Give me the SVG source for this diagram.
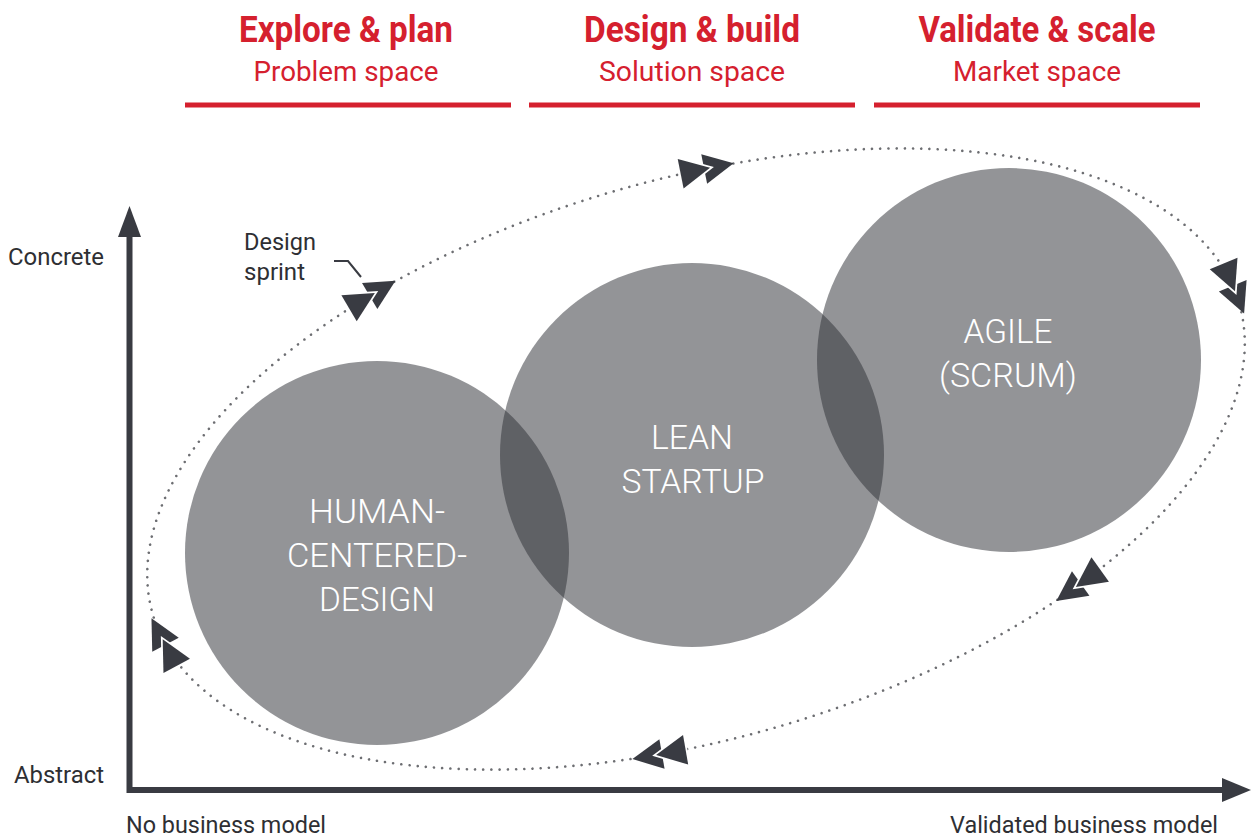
<svg xmlns="http://www.w3.org/2000/svg" xmlns:xlink="http://www.w3.org/1999/xlink" width="1252" height="837" viewBox="0 0 1252 837">
  <style>
    .head { font-family: Roboto, "Liberation Sans", sans-serif; font-weight: 700; font-size: 36px; fill: #d5202e; text-anchor: middle; }
    .sub { font-family: Roboto, "Liberation Sans", sans-serif; font-weight: 400; font-size: 28px; fill: #d5202e; text-anchor: middle; }
    .rule { stroke: #d5202e; stroke-width: 5; }
    .axislbl { font-family: Roboto, "Liberation Sans", sans-serif; font-size: 23px; fill: #2e2f33; }
    .circle { fill: #303238; fill-opacity: 0.52; }
    .clbl { font-family: Roboto, "Liberation Sans", sans-serif; font-weight: 300; font-size: 34px; fill: #ffffff; text-anchor: middle; }
    .axis { fill: none; stroke: #393b42; stroke-width: 6; }
    .ahead { fill: #393b42; }
    .loop { fill: none; stroke: #6d6e72; stroke-width: 2.6; stroke-dasharray: 0 8.2; stroke-linecap: round; }
    .chev { fill: #393b42; }
    .chev-back { fill: #393b42; stroke: #ffffff; stroke-width: 3.5; paint-order: stroke; }
  </style>
  <defs>
    <!-- double arrowhead pointing along +x, centred on the origin -->
    <g id="dbl">
      <polygon class="chev" points="-4,-15 26,0 -4,15"/>
      <polygon class="chev-back" points="-28,-15 2,0 -28,15"/>
    </g>
  </defs>

  <!-- phase headers -->
  <g id="phase-explore">
    <text class="head" x="346" y="42" textLength="214" lengthAdjust="spacingAndGlyphs">Explore &amp; plan</text>
    <text class="sub" x="346" y="81" textLength="185" lengthAdjust="spacingAndGlyphs">Problem space</text>
    <line class="rule" x1="185" y1="105" x2="511" y2="105"/>
  </g>
  <g id="phase-design">
    <text class="head" x="692" y="42" textLength="216" lengthAdjust="spacingAndGlyphs">Design &amp; build</text>
    <text class="sub" x="692" y="81" textLength="186" lengthAdjust="spacingAndGlyphs">Solution space</text>
    <line class="rule" x1="529" y1="105" x2="855" y2="105"/>
  </g>
  <g id="phase-validate">
    <text class="head" x="1037" y="42" textLength="237" lengthAdjust="spacingAndGlyphs">Validate &amp; scale</text>
    <text class="sub" x="1037" y="81" textLength="168" lengthAdjust="spacingAndGlyphs">Market space</text>
    <line class="rule" x1="874" y1="105" x2="1200" y2="105"/>
  </g>

  <!-- axes -->
  <g id="axes">
    <path class="axis" d="M129.5,232 V790 H1224"/>
    <polygon class="ahead" points="118,237 129.5,206 141,237"/>
    <polygon class="ahead" points="1222,778 1251,790 1222,802"/>
    <text class="axislbl" x="8" y="265" textLength="96" lengthAdjust="spacingAndGlyphs">Concrete</text>
    <text class="axislbl" x="14" y="783" textLength="90" lengthAdjust="spacingAndGlyphs">Abstract</text>
    <text class="axislbl" x="126" y="833" textLength="200" lengthAdjust="spacingAndGlyphs">No business model</text>
    <text class="axislbl" x="950" y="833" textLength="268" lengthAdjust="spacingAndGlyphs">Validated business model</text>
  </g>

  <!-- dotted iteration loop -->
  <g id="connectors">
    <ellipse class="loop" cx="0" cy="0" rx="565" ry="280" transform="translate(696,459) rotate(-15.9)"/>
  </g>

  <!-- method circles -->
  <g id="node-hcd">
    <circle class="circle" cx="377" cy="553" r="192"/>
    <text class="clbl" x="377" y="523" textLength="136" lengthAdjust="spacingAndGlyphs">HUMAN-</text>
    <text class="clbl" x="377" y="567" textLength="180" lengthAdjust="spacingAndGlyphs">CENTERED-</text>
    <text class="clbl" x="377" y="611" textLength="116" lengthAdjust="spacingAndGlyphs">DESIGN</text>
  </g>
  <g id="node-lean">
    <circle class="circle" cx="692" cy="455" r="192"/>
    <text class="clbl" x="692" y="449" textLength="82" lengthAdjust="spacingAndGlyphs">LEAN</text>
    <text class="clbl" x="693" y="493" textLength="143" lengthAdjust="spacingAndGlyphs">STARTUP</text>
  </g>
  <g id="node-agile">
    <circle class="circle" cx="1009" cy="360" r="192"/>
    <text class="clbl" x="1008" y="343" textLength="89" lengthAdjust="spacingAndGlyphs">AGILE</text>
    <text class="clbl" x="1008" y="387" textLength="138" lengthAdjust="spacingAndGlyphs">(SCRUM)</text>
  </g>

  <!-- direction markers along the loop (loop frame) -->
  <g id="loop-arrows" transform="translate(696,459) rotate(-15.9)">
    <use href="#dbl" transform="translate(91.3,-276.3) rotate(4.6)"/>
    <use href="#dbl" transform="translate(-265.3,-247.2) rotate(-14.8)"/>
    <use href="#dbl" transform="translate(564.1,-15.6) rotate(83.6)"/>
    <use href="#dbl" transform="translate(332.1,226.5) rotate(160.2)"/>
    <use href="#dbl" transform="translate(-117.5,273.9) rotate(186)"/>
    <use href="#dbl" transform="translate(-561.9,29.3) rotate(258)"/>
  </g>

  <!-- design sprint callout -->
  <g id="label-design-sprint">
    <text class="axislbl" x="244" y="250" textLength="72" lengthAdjust="spacingAndGlyphs">Design</text>
    <text class="axislbl" x="244" y="280" textLength="61" lengthAdjust="spacingAndGlyphs">sprint</text>
    <polyline points="334,261 348,261 361,277" fill="none" stroke="#393b42" stroke-width="2"/>
  </g>
</svg>
